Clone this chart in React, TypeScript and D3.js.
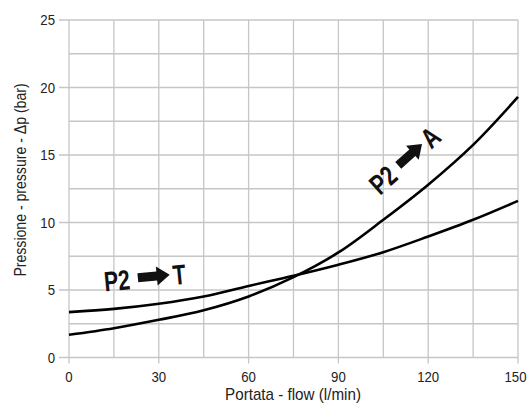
import React from "react";
import * as d3 from "d3";

const flows = [0, 15, 30, 45, 60, 75, 90, 105, 120, 135, 150];
const seriesA = [1.68, 2.17, 2.79, 3.5, 4.52, 5.95, 7.78, 10.2, 12.8, 15.75, 19.3];
const seriesT = [3.36, 3.6, 3.98, 4.52, 5.3, 6.05, 6.87, 7.8, 8.96, 10.2, 11.6];
const xTicks = [0, 30, 60, 90, 120, 150];
const xGrid = [0, 15, 30, 45, 60, 75, 90, 105, 120, 135, 150];
const yTicks = [0, 5, 10, 15, 20, 25];
const yGrid = [0, 2.5, 5, 7.5, 10, 12.5, 15, 17.5, 20, 22.5, 25];

const W = 528;
const H = 408;
const FONT = "'Liberation Sans', Arial, sans-serif";

function NText(props: {
  x: number;
  y: number;
  anchor?: "start" | "middle" | "end";
  size: number;
  sx?: number;
  bold?: boolean;
  fill?: string;
  children: React.ReactNode;
}) {
  const { x, y, anchor = "start", size, sx = 0.88, bold, fill = "#222", children } = props;
  return (
    <text
      transform={`translate(${x},${y}) scale(${sx},1)`}
      textAnchor={anchor}
      fontFamily={FONT}
      fontSize={size}
      fontWeight={bold ? "bold" : "normal"}
      fill={fill}
    >
      {children}
    </text>
  );
}

export default function App() {
  const x = d3.scaleLinear().domain([0, 150]).range([69, 518]);
  const y = d3.scaleLinear().domain([0, 25]).range([357.5, 20]);
  const line = d3
    .line<number>()
    .x((_, i) => x(flows[i]))
    .y((d) => y(d))
    .curve(d3.curveCatmullRom.alpha(0.5));

  const arrow = (len: number) =>
    `M0,-4.5 L${len - 13},-4.5 L${len - 13},-9.5 L${len},0 L${len - 13},9.5 L${len - 13},4.5 L0,4.5 Z`;

  return (
    <svg
      width={W}
      height={H}
      style={{ position: "absolute", left: 0, top: 0, background: "#fff" }}
    >
      <rect width={W} height={H} fill="#fff" />
      {xGrid.map((v) => (
        <line
          key={"xg" + v}
          x1={x(v)}
          x2={x(v)}
          y1={y(25)}
          y2={xTicks.includes(v) ? y(0) + 6 : y(0)}
          stroke="#c6c6c6"
          strokeWidth={1.3}
        />
      ))}
      {yGrid.map((v) => (
        <line
          key={"yg" + v}
          x1={yTicks.includes(v) ? x(0) - 10 : x(0)}
          x2={x(150)}
          y1={y(v)}
          y2={y(v)}
          stroke="#c6c6c6"
          strokeWidth={1.3}
        />
      ))}
      {xTicks.map((v) => (
        <NText key={"xt" + v} x={Math.min(x(v), 515.5)} y={382} anchor="middle" size={15}>
          {v}
        </NText>
      ))}
      {yTicks.map((v) => (
        <NText key={"yt" + v} x={55} y={y(v) + 5} anchor="end" size={15}>
          {v}
        </NText>
      ))}
      <path d={line(seriesT) || ""} fill="none" stroke="#000" strokeWidth={2.6} />
      <path d={line(seriesA) || ""} fill="none" stroke="#000" strokeWidth={2.6} />

      <g transform="translate(105,291.5) rotate(-5.5)">
        <NText x={0} y={0} size={28} bold fill="#111" sx={0.76}>
          P2
        </NText>
        <path d={arrow(32)} transform="translate(34,-10.5)" fill="#111" />
        <NText x={69} y={0} size={28} bold fill="#111" sx={0.76}>
          T
        </NText>
      </g>
      <g transform="translate(380,196) rotate(-42)">
        <NText x={0} y={0} size={28} bold fill="#111" sx={0.76}>
          P2
        </NText>
        <path d={arrow(32)} transform="translate(34,-10.5)" fill="#111" />
        <NText x={69} y={0} size={28} bold fill="#111" sx={0.76}>
          A
        </NText>
      </g>

      <NText x={293} y={400} anchor="middle" size={16} sx={0.95}>
        Portata - flow (l/min)
      </NText>
      <g transform="translate(26,180) rotate(-90)">
        <NText x={0} y={0} anchor="middle" size={16} sx={0.88}>
          Pressione - pressure - Δp (bar)
        </NText>
      </g>
    </svg>
  );
}
